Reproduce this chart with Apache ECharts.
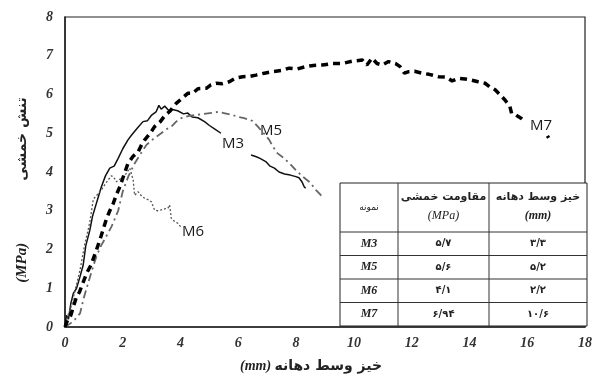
<!DOCTYPE html>
<html><head><meta charset="utf-8">
<script src="https://cdn.jsdelivr.net/npm/echarts@6/dist/echarts.min.js"></script>
<style>html,body{margin:0;padding:0;background:#fff}#c{width:595px;height:378px}</style>
</head><body><div id="c"></div>
<script>
// ---- data ----
const seriesNames = ['M3', 'M5', 'M6', 'M7'];
const m3 = [[0,0],[0.05,0.3],[0.12,0.2],[0.2,0.6],[0.29,0.87],[0.4,1.0],[0.52,1.3],[0.63,1.6],[0.72,2.1],[0.86,2.5],[0.95,2.85],[1.05,3.1],[1.15,3.35],[1.26,3.62],[1.4,3.9],[1.55,4.1],[1.7,4.15],[1.84,4.35],[2.0,4.6],[2.18,4.83],[2.3,4.95],[2.5,5.13],[2.7,5.3],[2.85,5.32],[3.0,5.47],[3.15,5.55],[3.25,5.72],[3.33,5.62],[3.45,5.7],[3.6,5.58],[3.68,5.62],[3.9,5.58],[4.1,5.5],[4.25,5.52],[4.4,5.42],[4.6,5.4],[4.83,5.3],[5.0,5.2],[5.2,5.1],[5.4,5.0],[5.9,null],[6.44,4.44],[6.6,4.4],[6.75,4.35],[6.95,4.27],[7.1,4.15],[7.25,4.1],[7.41,4.0],[7.6,3.95],[7.8,3.92],[7.99,3.88],[8.1,3.85],[8.2,3.75],[8.28,3.62],[8.33,3.58]];
const m5 = [[0,0],[0.2,0.1],[0.35,0.2],[0.52,0.35],[0.65,0.75],[0.8,1.13],[0.95,1.5],[1.1,1.85],[1.25,2.1],[1.4,2.3],[1.61,2.59],[1.84,3.0],[2.0,3.5],[2.2,3.9],[2.41,4.22],[2.6,4.45],[2.82,4.7],[3.05,4.85],[3.33,5.0],[3.5,5.1],[3.68,5.17],[3.85,5.3],[4.02,5.39],[4.3,5.45],[4.54,5.47],[4.8,5.5],[5.11,5.53],[5.3,5.55],[5.5,5.52],[5.8,5.47],[6.0,5.42],[6.2,5.39],[6.49,5.32],[6.7,5.15],[6.9,4.98],[7.07,4.83],[7.2,4.65],[7.36,4.48],[7.59,4.35],[7.8,4.2],[7.99,4.05],[8.2,3.9],[8.45,3.75],[8.6,3.62],[8.68,3.54],[8.8,3.45],[8.91,3.36]];
const m6 = [[0,0],[0.1,0.3],[0.2,0.5],[0.3,0.8],[0.4,1.1],[0.52,1.47],[0.6,1.8],[0.69,2.16],[0.8,2.5],[0.86,2.72],[0.92,3.0],[0.98,3.3],[1.03,3.35],[1.1,3.4],[1.26,3.54],[1.4,3.7],[1.49,3.79],[1.6,3.9],[1.67,3.88],[1.78,3.75],[1.95,3.84],[2.05,3.9],[2.13,3.97],[2.24,4.1],[2.3,3.95],[2.36,3.79],[2.41,3.4],[2.53,3.49],[2.65,3.38],[2.76,3.32],[2.9,3.28],[2.99,3.23],[3.1,3.02],[3.2,3.0],[3.33,3.02],[3.45,3.05],[3.56,3.06],[3.62,3.15],[3.68,2.8],[3.8,2.72],[3.9,2.68],[4.0,2.59]];
const m7 = [[0,0],[0.1,0.2],[0.2,0.3],[0.3,0.55],[0.4,0.78],[0.5,0.9],[0.6,1.1],[0.75,1.39],[0.9,1.6],[1.09,1.99],[1.25,2.35],[1.44,2.8],[1.55,3.0],[1.67,3.19],[1.8,3.45],[1.9,3.62],[2.05,3.95],[2.18,4.22],[2.35,4.4],[2.53,4.52],[2.65,4.7],[2.76,4.83],[2.95,5.0],[3.1,5.17],[3.3,5.3],[3.45,5.45],[3.62,5.56],[3.85,5.77],[4.05,5.9],[4.25,6.03],[4.42,6.03],[4.6,6.15],[4.89,6.16],[5.05,6.25],[5.23,6.29],[5.45,6.28],[5.69,6.33],[5.9,6.42],[6.15,6.46],[6.4,6.47],[6.61,6.5],[6.9,6.55],[7.18,6.59],[7.5,6.62],[7.76,6.68],[8.05,6.66],[8.33,6.72],[8.6,6.75],[8.91,6.76],[9.25,6.8],[9.6,6.8],[9.95,6.86],[10.29,6.89],[10.45,6.76],[10.63,6.94],[10.8,6.8],[10.98,6.76],[11.2,6.85],[11.44,6.8],[11.6,6.72],[11.75,6.55],[11.9,6.59],[12.1,6.6],[12.36,6.55],[12.6,6.52],[12.93,6.46],[13.2,6.45],[13.4,6.35],[13.62,6.42],[13.85,6.4],[14.08,6.37],[14.3,6.33],[14.54,6.29],[14.7,6.2],[14.89,6.12],[15.05,6.0],[15.23,5.86],[15.4,5.69],[15.46,5.51],[15.6,5.48],[15.69,5.43],[15.8,5.38],[15.86,5.34],[16.3,null],[16.7,4.93],[16.74,4.88]];
const tableHeader = ['نمونه', 'مقاومت خمشی', '(MPa)', 'خیز وسط دهانه', '(mm)'];
const tableSamples = ['M3', 'M5', 'M6', 'M7'];
const tableStrength = ['۵/۷', '۵/۶', '۴/۱', '۶/۹۴'];
const tableDeflection = ['۳/۳', '۵/۲', '۲/۲', '۱۰/۶'];
const xTitle = ['(mm)', 'خیز وسط دهانه'];
const yTitle = ['(MPa)', 'تنش خمشی'];

// ---- chart ----
const chart = echarts.init(document.getElementById('c'), null, {renderer: 'canvas'});
const serif = '"Liberation Serif", "Times New Roman", serif';
const fa = '"DejaVu Sans", sans-serif';

const G = [];
// table
const tL = 340, tR = 587, tT = 183, tB = 326, hB = 232;
const cols = [tL, 398, 489, tR];
const rowH = (tB - hB) / 4;
G.push({type: 'rect', shape: {x: tL, y: tT, width: tR - tL, height: tB - tT}, style: {fill: '#fff', stroke: '#222', lineWidth: 1}, z: 10});
[hB, hB + rowH, hB + 2 * rowH, hB + 3 * rowH].forEach(y => G.push({type: 'line', shape: {x1: tL, y1: y, x2: tR, y2: y}, style: {stroke: '#333', lineWidth: 1}, z: 11}));
[cols[1], cols[2]].forEach(x => G.push({type: 'line', shape: {x1: x, y1: tT, x2: x, y2: tB}, style: {stroke: '#333', lineWidth: 1}, z: 11}));
const cc = [(cols[0] + cols[1]) / 2, (cols[1] + cols[2]) / 2, (cols[2] + cols[3]) / 2];
function txt(x, y, s, font, size, weight, italic) {
  G.push({type: 'text', x: x, y: y, z: 12, style: {text: s, fontFamily: font, fontSize: size, fontWeight: weight, fontStyle: italic ? 'italic' : 'normal', fill: '#222', align: 'center', verticalAlign: 'middle'}});
}
txt(cc[0], (tT + hB) / 2, tableHeader[0], fa, 9, 'normal', false);
txt(cc[1], 197, tableHeader[1], fa, 11, 'bold', false);
txt(cc[1], 216, tableHeader[2], serif, 12, 'normal', true);
txt(cc[2], 197, tableHeader[3], fa, 11, 'bold', false);
txt(cc[2], 216, tableHeader[4], serif, 12, 'bold', true);
tableSamples.forEach((s, i) => {
  const y = hB + rowH * (i + 0.5);
  txt(cc[0], y, s, serif, 12, 'bold', true);
  txt(cc[1], y, tableStrength[i], fa, 10, 'bold', false);
  txt(cc[2], y, tableDeflection[i], fa, 10, 'bold', false);
});
// curve labels
const lab = [[233, 144], [271, 131], [193, 232], [541, 126]];
seriesNames.forEach((n, i) => G.push({type: 'text', x: lab[i][0], y: lab[i][1], z: 12, style: {text: n, fontFamily: '"Open Sans", sans-serif', fontSize: 15, fontWeight: 500, fill: '#1a1a1a', align: 'center', verticalAlign: 'middle'}}));
// axis titles
G.push({type: 'text', x: 311, y: 366, z: 12, style: {
  text: '{a|' + xTitle[0] + '} {b|' + xTitle[1] + '}', align: 'center', verticalAlign: 'middle',
  rich: {a: {fontFamily: serif, fontSize: 14, fontWeight: 'bold', fontStyle: 'italic', fill: '#222'}, b: {fontFamily: fa, fontSize: 14, fontWeight: 'bold', fill: '#222'}}
}});
G.push({type: 'text', x: 22, y: 190, rotation: Math.PI / 2, z: 12, style: {
  text: '{a|' + yTitle[0] + '}{g| }{b|' + yTitle[1] + '}', align: 'center', verticalAlign: 'middle',
  rich: {a: {fontFamily: serif, fontSize: 15, fontWeight: 'bold', fontStyle: 'italic', fill: '#222'}, g: {width: 62, fontSize: 14}, b: {fontFamily: fa, fontSize: 14, fontWeight: 'bold', fill: '#222'}}
}});

const axisLabel = {fontFamily: serif, fontSize: 14, fontWeight: 'bold', fontStyle: 'italic', color: '#333'};
chart.setOption({
  animation: false,
  backgroundColor: '#fff',
  grid: {left: 65, right: 8, top: 17, bottom: 51, show: true, borderColor: '#222', borderWidth: 1.2},
  xAxis: {type: 'value', min: 0, max: 18, interval: 2, axisLine: {show: true, lineStyle: {color: '#222', width: 1.5}}, axisTick: {show: false}, splitLine: {show: false}, axisLabel: Object.assign({margin: 9}, axisLabel)},
  yAxis: {type: 'value', min: 0, max: 8, interval: 1, axisLine: {show: true, lineStyle: {color: '#222', width: 1.5}}, axisTick: {show: false}, splitLine: {show: false}, axisLabel: Object.assign({margin: 12}, axisLabel)},
  series: [
    {name: seriesNames[0], type: 'line', data: m3, showSymbol: false, symbol: 'none', lineStyle: {color: '#111', width: 1.5}},
    {name: seriesNames[1], type: 'line', data: m5, showSymbol: false, symbol: 'none', lineStyle: {color: '#666', width: 1.8, type: [8, 4, 2, 4]}},
    {name: seriesNames[2], type: 'line', data: m6, showSymbol: false, symbol: 'none', lineStyle: {color: '#555', width: 1.3, type: [2, 2]}},
    {name: seriesNames[3], type: 'line', data: m7, showSymbol: false, symbol: 'none', lineStyle: {color: '#000', width: 3.5, type: [7, 5]}}
  ],
  graphic: G
});
</script></body></html>
